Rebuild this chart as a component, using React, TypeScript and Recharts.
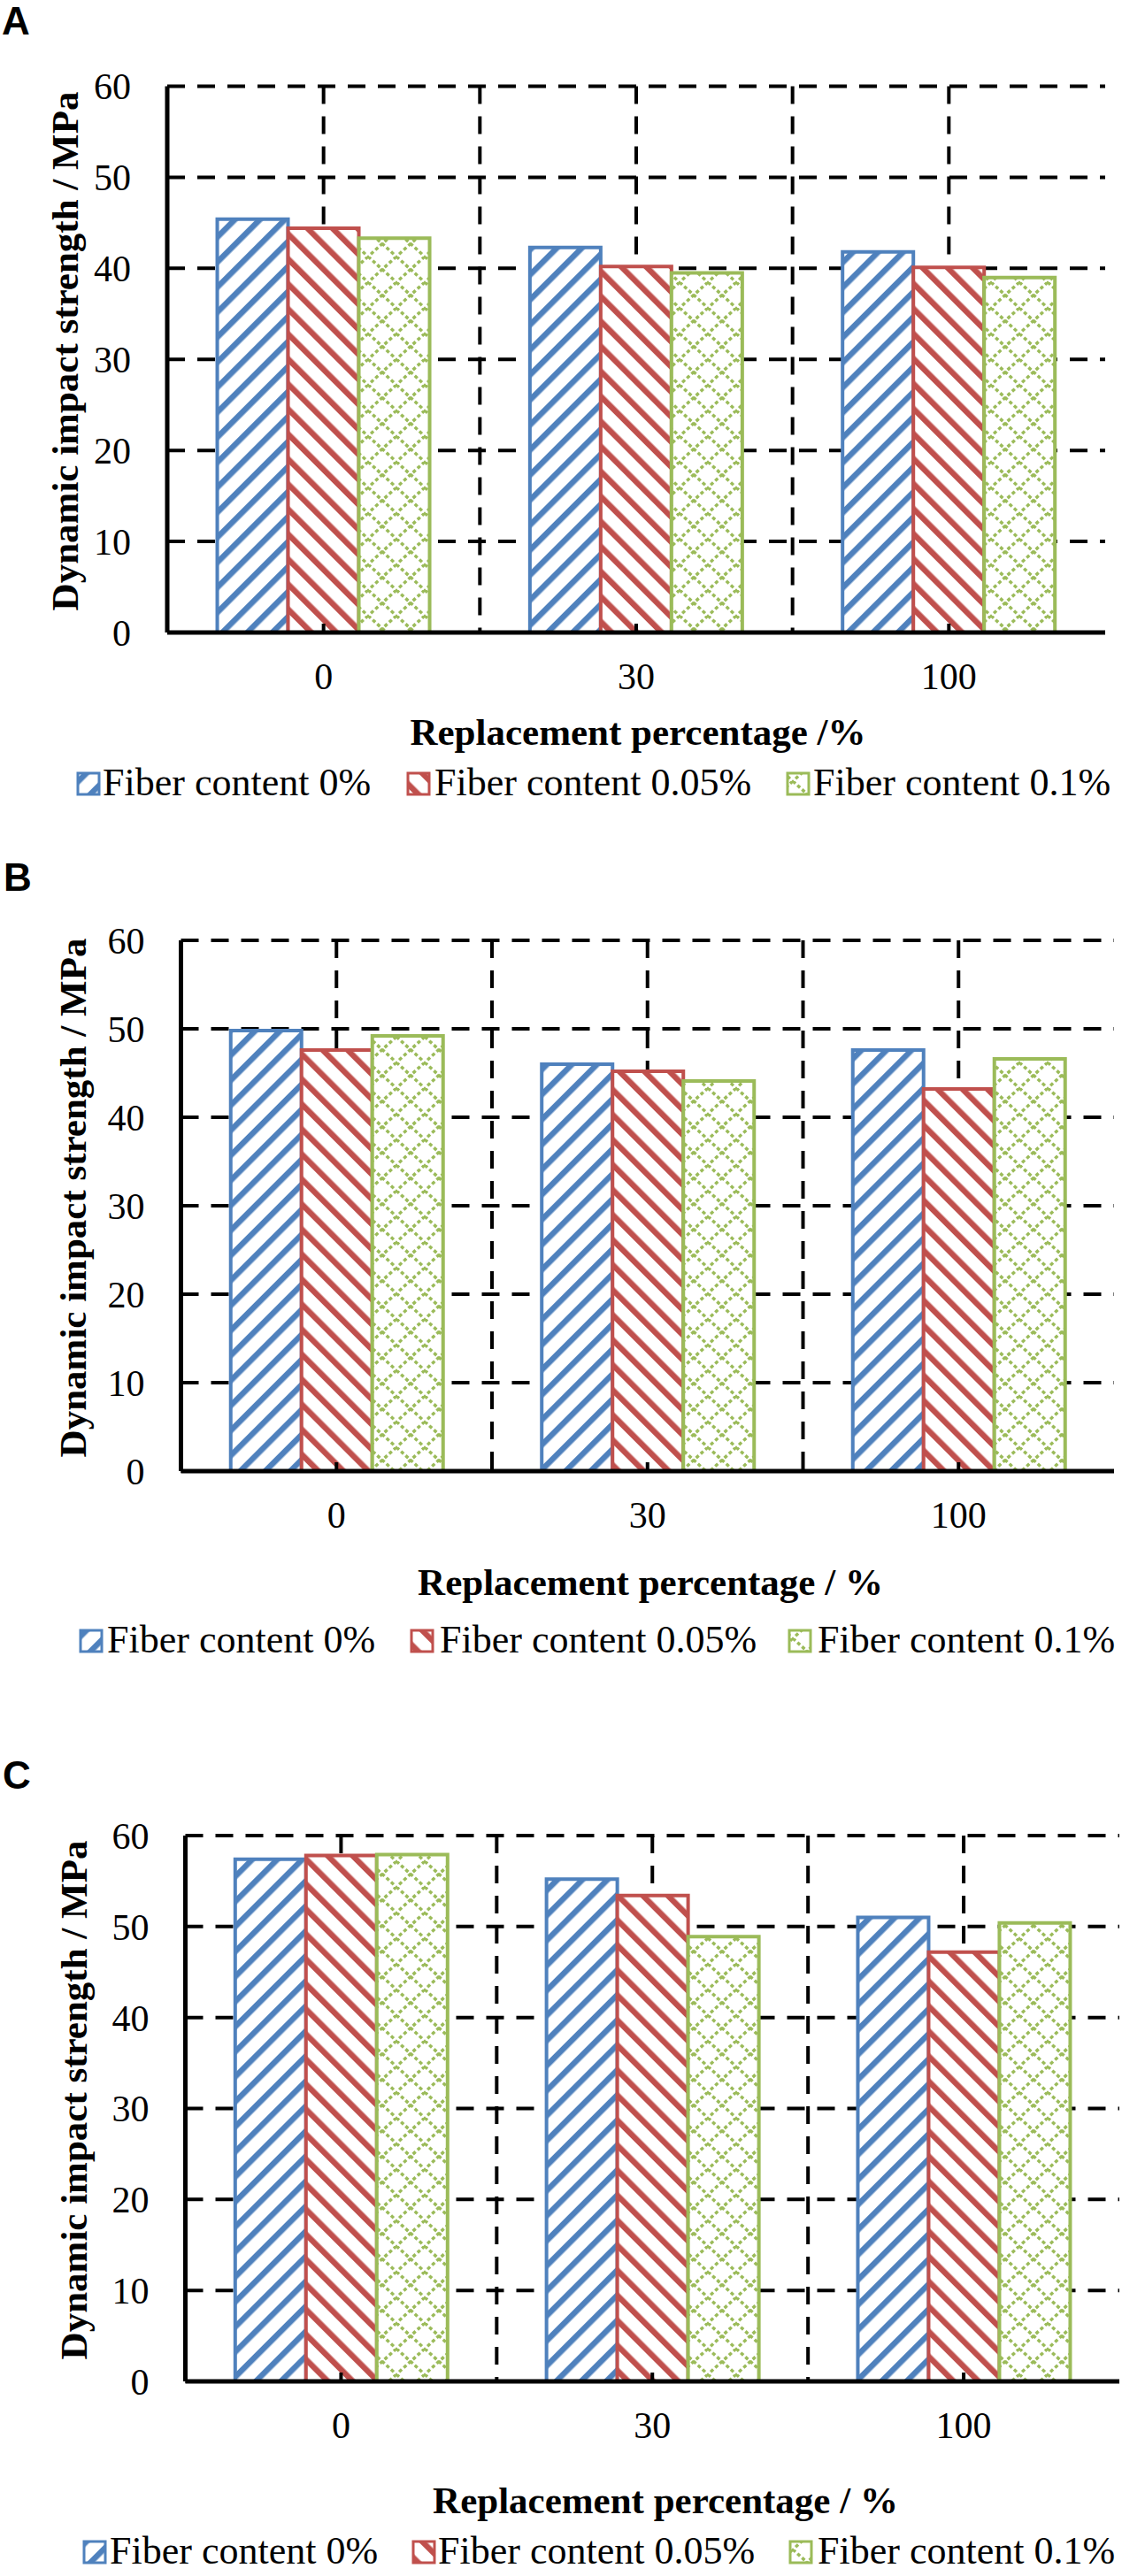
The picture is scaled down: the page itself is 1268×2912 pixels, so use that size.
import React from 'react';
import { BarChart, Bar, XAxis, YAxis, CartesianGrid, Legend, Label } from 'recharts';

// categories and tick values
const CATEGORIES = ['0', '30', '100'];
const SERIES_NAMES = ['Fiber content 0%', 'Fiber content 0.05%', 'Fiber content 0.1%'];
const Y_TICKS = [0, 10, 20, 30, 40, 50, 60];
const MINOR_TICKS = [5, 15, 25, 35, 45, 55];

// panel A
const A_FIBER_0 = [45.4, 42.3, 41.8];
const A_FIBER_005 = [44.4, 40.2, 40.1];
const A_FIBER_01 = [43.3, 39.5, 39.0];

// panel B
const B_FIBER_0 = [49.8, 46.0, 47.6];
const B_FIBER_005 = [47.6, 45.2, 43.2];
const B_FIBER_01 = [49.2, 44.1, 46.6];

// panel C
const C_FIBER_0 = [57.4, 55.2, 51.0];
const C_FIBER_005 = [57.8, 53.4, 47.2];
const C_FIBER_01 = [57.9, 48.9, 50.4];

const BLUE = '#4F81BD';
const RED = '#C0504D';
const GREEN = '#9BBB59';
const SERIF = '"Liberation Serif", "Times New Roman", serif';
const SANS = '"Liberation Sans", Arial, sans-serif';
const W = 1268;

const SERIES = [
  { key: 'f0', color: BLUE, pattern: 'hb' },
  { key: 'f005', color: RED, pattern: 'hr' },
  { key: 'f01', color: GREEN, pattern: 'hg' },
];

type PanelCfg = {
  id: string;
  top: number;
  height: number;
  margin: { top: number; right: number; bottom: number; left: number };
  xTitle: string;
  xTitleX: number;
  xTitleY: number;
  yTitleX: number;
  yTitleY: number;
  letterX: number;
  letterY: number;
  legendY: number;
  legendSq: number[];
  legendTx: number[];
  values: number[][];
};

const PANELS: PanelCfg[] = [
  {
    id: 'A', top: 0, height: 940,
    margin: { top: 97.5, right: 19, bottom: 165, left: 89 },
    xTitle: 'Replacement percentage /%', xTitleX: 721, xTitleY: 842,
    yTitleX: 88, yTitleY: 397, letterX: 2, letterY: 39,
    legendY: 899, legendSq: [88, 461, 890], legendTx: [116, 491, 919],
    values: [A_FIBER_0, A_FIBER_005, A_FIBER_01],
  },
  {
    id: 'B', top: 940, height: 990,
    margin: { top: 123, right: 9, bottom: 207, left: 104.5 },
    xTitle: 'Replacement percentage / %', xTitleX: 735, xTitleY: 863,
    yTitleX: 97, yTitleY: 414, letterX: 4, letterY: 67,
    legendY: 928, legendSq: [91, 465, 892], legendTx: [121, 497, 924],
    values: [B_FIBER_0, B_FIBER_005, B_FIBER_01],
  },
  {
    id: 'C', top: 1930, height: 982,
    margin: { top: 145, right: 3, bottom: 160, left: 109.5 },
    xTitle: 'Replacement percentage / %', xTitleX: 752, xTitleY: 911,
    yTitleX: 98, yTitleY: 444, letterX: 3, letterY: 92,
    legendY: 968, legendSq: [95, 467, 893], legendTx: [124, 495, 924],
    values: [C_FIBER_0, C_FIBER_005, C_FIBER_01],
  },
];

// gridlines at category centres and at the borders between categories
const verticalGen = (props: any) => {
  const off = props?.offset || {};
  const chartW = props?.width ?? W;
  const w = typeof off.width === 'number' ? off.width : chartW - (off.left || 0) - (off.right || 0);
  const left = off.left || 0;
  const n = CATEGORIES.length * 2;
  const pts: number[] = [];
  for (let k = 1; k < n; k++) pts.push(left + (w * k) / n);
  return pts;
};

const axisLine = { stroke: '#000', strokeWidth: 5 };

const XTick = (props: any) => (
  <text x={props.x} y={props.y} dy="0.71em" textAnchor="middle" fontSize={42} fill="#000" style={{ fontFamily: SERIF }}>
    {props.payload?.value}
  </text>
);

const YTick = (props: any) => (
  <text x={props.x} y={props.y} dy="0.355em" textAnchor="end" fontSize={42} fill="#000" style={{ fontFamily: SERIF }}>
    {props.payload?.value}
  </text>
);

function Panel({ cfg }: { cfg: PanelCfg }) {
  const data = CATEGORIES.map((c, i) => ({
    cat: c,
    f0: cfg.values[0][i],
    f005: cfg.values[1][i],
    f01: cfg.values[2][i],
  }));

  const renderLegend = (props: any) => {
    const payload = props.payload || [];
    return (
      <svg width={W} height={60} style={{ position: 'absolute', left: 0, top: cfg.legendY - 45, overflow: 'visible' }}>
        {payload.map((entry: any, i: number) => {
          const s = SERIES.find((x) => x.key === entry.dataKey) || SERIES[i];
          const idx = SERIES.indexOf(s);
          return (
            <g key={s.key}>
              <rect
                x={cfg.legendSq[idx]}
                y={45 - 25}
                width={24}
                height={24}
                fill={`url(#${s.pattern}-${cfg.id})`}
                stroke={s.color}
                strokeWidth={3}
              />
              <text x={cfg.legendTx[idx]} y={45} fontSize={44} fill="#000" style={{ fontFamily: SERIF }}>
                {entry.value}
              </text>
            </g>
          );
        })}
      </svg>
    );
  };

  return (
    <div style={{ position: 'absolute', left: 0, top: cfg.top, width: W, height: cfg.height }}>
      <BarChart width={W} height={cfg.height} data={data} margin={cfg.margin} barCategoryGap="16%" barGap={0}>
        <defs>
          <pattern id={`hb-${cfg.id}`} patternUnits="userSpaceOnUse" width={20} height={20} patternTransform="rotate(45)">
            <rect width={20} height={20} fill="#fff" />
            <rect width={6.5} height={20} fill={BLUE} />
          </pattern>
          <pattern id={`hr-${cfg.id}`} patternUnits="userSpaceOnUse" width={20} height={20} patternTransform="rotate(-45)">
            <rect width={20} height={20} fill="#fff" />
            <rect width={6.5} height={20} fill={RED} />
          </pattern>
          <pattern id={`hg-${cfg.id}`} patternUnits="userSpaceOnUse" width={32} height={29}>
            <rect width={32} height={29} fill="#fff" />
            <line x1={0} y1={0} x2={32} y2={29} stroke={GREEN} strokeWidth={3.5} strokeDasharray="4 3" />
            <line x1={32} y1={0} x2={0} y2={29} stroke={GREEN} strokeWidth={3.5} strokeDasharray="4 3" />
          </pattern>
        </defs>
        <CartesianGrid stroke="#000" strokeWidth={4} strokeDasharray="20 14" verticalCoordinatesGenerator={verticalGen} />
        <XAxis
          dataKey="cat"
          height={60}
          interval={0}
          tickSize={-10}
          tickMargin={44}
          tickLine={{ stroke: '#000', strokeWidth: 4 }}
          axisLine={axisLine}
          tick={<XTick />}
        >
          <Label
            content={() => (
              <text x={cfg.xTitleX} y={cfg.xTitleY} textAnchor="middle" fontSize={43} fontWeight="bold" fill="#000" style={{ fontFamily: SERIF }}>
                {cfg.xTitle}
              </text>
            )}
          />
        </XAxis>
        <XAxis xAxisId="top" orientation="top" dataKey="cat" height={0} tick={false} tickLine={false} axisLine={axisLine} />
        <YAxis
          domain={[0, 60]}
          ticks={Y_TICKS}
          interval={0}
          width={100}
          tickLine={false}
          tickSize={0}
          tickMargin={41}
          axisLine={axisLine}
          tick={<YTick />}
        >
          <Label
            content={() => (
              <g>
                <text
                  x={cfg.yTitleX}
                  y={cfg.yTitleY}
                  transform={`rotate(-90 ${cfg.yTitleX} ${cfg.yTitleY})`}
                  textAnchor="middle"
                  fontSize={43}
                  fontWeight="bold"
                  fill="#000"
                  style={{ fontFamily: SERIF }}
                >
                  Dynamic impact strength / MPa
                </text>
                <text x={cfg.letterX} y={cfg.letterY} fontSize={44} fontWeight="bold" fill="#000" style={{ fontFamily: SANS }}>
                  {cfg.id}
                </text>
              </g>
            )}
          />
        </YAxis>
        <YAxis
          yAxisId="minor"
          domain={[0, 60]}
          ticks={MINOR_TICKS}
          interval={0}
          mirror
          tick={false}
          tickSize={8}
          tickLine={{ stroke: '#000', strokeWidth: 3 }}
          axisLine={false}
        />
        <YAxis yAxisId="right" orientation="right" width={0} domain={[0, 60]} tick={false} tickLine={false} axisLine={axisLine} />
        {SERIES.map((s, i) => (
          <Bar
            key={s.key}
            dataKey={s.key}
            name={SERIES_NAMES[i]}
            fill={`url(#${s.pattern}-${cfg.id})`}
            stroke={s.color}
            strokeWidth={4}
            isAnimationActive={false}
          />
        ))}
        <Legend
          content={renderLegend}
          wrapperStyle={{ position: 'absolute', left: 0, top: 0, width: 0, height: 0, overflow: 'visible' }}
        />
      </BarChart>
    </div>
  );
}

export default function App() {
  return (
    <div style={{ position: 'absolute', left: 0, top: 0, width: W, height: 2912, background: '#fff', overflow: 'hidden' }}>
      {PANELS.map((p) => (
        <Panel key={p.id} cfg={p} />
      ))}
    </div>
  );
}
